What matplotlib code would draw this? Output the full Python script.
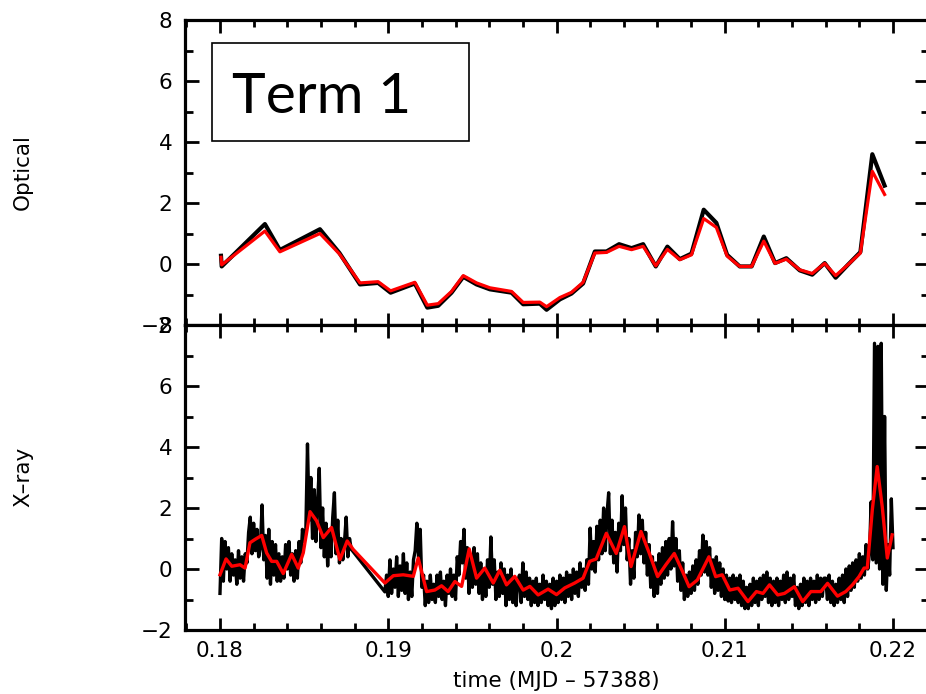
import numpy as np
import matplotlib
matplotlib.use("Agg")
import matplotlib.pyplot as plt
from matplotlib.ticker import MultipleLocator, FuncFormatter
from matplotlib.patches import Rectangle

# optical light curve (black = data, red = model)
opt_t = [0.18006, 0.1801, 0.18267, 0.18356, 0.18594, 0.1871, 0.18832, 0.1894, 0.19014, 0.19158,
         0.19232, 0.19297, 0.19376, 0.19446, 0.19525, 0.19604, 0.19733, 0.19802, 0.19901, 0.19941,
         0.2002, 0.20089, 0.20158, 0.20228, 0.20297, 0.20372, 0.20446, 0.20515, 0.2059, 0.20659,
         0.20733, 0.20802, 0.20875, 0.2095, 0.21014, 0.21089, 0.2116, 0.21232, 0.21299, 0.21366,
         0.21446, 0.2152, 0.21594, 0.21659, 0.21733, 0.21806, 0.21877, 0.2195]
opt_black = [0.27, -0.08, 1.31, 0.46, 1.14, 0.36, -0.67, -0.62, -0.94, -0.64,
             -1.43, -1.37, -0.94, -0.42, -0.67, -0.83, -0.94, -1.32, -1.30, -1.50,
             -1.16, -0.97, -0.64, 0.41, 0.41, 0.65, 0.52, 0.65, -0.08, 0.57,
             0.16, 0.34, 1.78, 1.35, 0.30, -0.08, -0.08, 0.90, 0.03, 0.19,
             -0.21, -0.35, 0.03, -0.45, -0.02, 0.39, 3.60, 2.57]
opt_red = [0.22, -0.03, 1.08, 0.40, 1.00, 0.33, -0.62, -0.58, -0.88, -0.60,
           -1.35, -1.30, -0.90, -0.38, -0.62, -0.78, -0.90, -1.26, -1.25, -1.40,
           -1.10, -0.93, -0.60, 0.36, 0.38, 0.58, 0.47, 0.58, -0.06, 0.48,
           0.14, 0.30, 1.49, 1.20, 0.26, -0.08, -0.08, 0.75, 0.02, 0.16,
           -0.19, -0.31, 0.02, -0.38, -0.02, 0.36, 3.04, 2.28]

# X-ray light curve, black data: first stretch
xa_t = [0.1800, 0.1801, 0.1802, 0.1803, 0.1804, 0.1805, 0.1806, 0.1807, 0.1808, 0.1809,
        0.1810, 0.1811, 0.1812, 0.1813, 0.1814, 0.1815, 0.1816, 0.1817, 0.1818, 0.1819,
        0.1820, 0.1821, 0.1822, 0.1823, 0.1824, 0.1825, 0.1826, 0.1827, 0.1828, 0.1829,
        0.1830, 0.1831, 0.1832, 0.1833, 0.1834, 0.1835, 0.1836, 0.1837, 0.1838, 0.1839,
        0.1840, 0.1841, 0.1842, 0.1843, 0.1844, 0.1845, 0.1846, 0.1847, 0.1848, 0.1849,
        0.1850, 0.1851, 0.1852, 0.1853, 0.1854, 0.1855, 0.1856, 0.1857, 0.1858, 0.1859,
        0.1860, 0.1861, 0.1862, 0.1863, 0.1864, 0.1865, 0.1866, 0.1867, 0.1868, 0.1869,
        0.1870, 0.1871, 0.1872, 0.1873, 0.1874, 0.1875, 0.1876, 0.1877, 0.1878]
xa_v = [-0.8, 1.0, -0.4, 0.9, 0.0, 0.7, -0.4, 0.5, -0.2, 0.3,
        -0.5, 0.6, -0.3, 0.4, -0.4, 0.5, 0.2, 1.2, 1.7, 0.5,
        1.5, 0.6, 1.3, 0.4, 0.7, 2.1, 0.3, 1.1, -0.3, 1.3,
        -0.5, 0.9, -0.2, 0.8, -0.4, 0.5, -0.4, 0.4, -0.3, 0.8,
        0.0, 0.9, -0.2, 0.5, -0.4, 0.6, -0.3, 0.9, 0.2, 1.3,
        0.9, 1.2, 4.1, 1.6, 3.0, 1.0, 2.6, 0.9, 2.2, 3.3,
        0.7, 2.0, 0.4, 1.5, 0.1, 1.3, 0.4, 1.7, 2.5, 0.5,
        1.6, 0.2, 1.0, 0.3, 0.9, 1.7, 0.4, 1.0, 0.65]

# X-ray light curve, black data: second stretch
xb_t = [0.1898, 0.1899, 0.1900, 0.1901, 0.1902, 0.1903, 0.1904, 0.1905, 0.1906, 0.1907,
        0.1908, 0.1909, 0.1910, 0.1911, 0.1912, 0.1913, 0.1914, 0.1915, 0.1916, 0.1917,
        0.1918, 0.1919, 0.1920, 0.1921, 0.1922, 0.1923, 0.1924, 0.1925, 0.1926, 0.1927,
        0.1928, 0.1929, 0.1930, 0.1931, 0.1932, 0.1933, 0.1934, 0.1935, 0.1936, 0.1937,
        0.1938, 0.1939, 0.1940, 0.1941, 0.1942, 0.1943, 0.1944, 0.1945, 0.1946, 0.1947,
        0.1948, 0.1949, 0.1950, 0.1951, 0.1952, 0.1953, 0.1954, 0.1955, 0.1956, 0.1957,
        0.1958, 0.1959, 0.1960, 0.1961, 0.1962, 0.1963, 0.1964, 0.1965, 0.1966, 0.1967,
        0.1968, 0.1969, 0.1970, 0.1971, 0.1972, 0.1973, 0.1974, 0.1975, 0.1976, 0.1977,
        0.1978, 0.1979, 0.1980, 0.1981, 0.1982, 0.1983, 0.1984, 0.1985, 0.1986, 0.1987,
        0.1988, 0.1989, 0.1990, 0.1991, 0.1992, 0.1993, 0.1994, 0.1995, 0.1996, 0.1997,
        0.1998, 0.1999, 0.2000, 0.2001, 0.2002, 0.2003, 0.2004, 0.2005, 0.2006, 0.2007,
        0.2008, 0.2009, 0.2010, 0.2011, 0.2012, 0.2013, 0.2014, 0.2015, 0.2016, 0.2017,
        0.2018, 0.2019, 0.2020, 0.2021, 0.2022, 0.2023, 0.2024, 0.2025, 0.2026, 0.2027,
        0.2028, 0.2029, 0.2030, 0.2031, 0.2032, 0.2033, 0.2034, 0.2035, 0.2036, 0.2037,
        0.2038, 0.2039, 0.2040, 0.2041, 0.2042, 0.2043, 0.2044, 0.2045, 0.2046, 0.2047,
        0.2048, 0.2049, 0.2050, 0.2051, 0.2052, 0.2053, 0.2054, 0.2055, 0.2056, 0.2057,
        0.2058, 0.2059, 0.2060, 0.2061, 0.2062, 0.2063, 0.2064, 0.2065, 0.2066, 0.2067,
        0.2068, 0.2069, 0.2070, 0.2071, 0.2072, 0.2073, 0.2074, 0.2075, 0.2076, 0.2077,
        0.2078, 0.2079, 0.2080, 0.2081, 0.2082, 0.2083, 0.2084, 0.2085, 0.2086, 0.2087,
        0.2088, 0.2089, 0.2090, 0.2091, 0.2092, 0.2093, 0.2094, 0.2095, 0.2096, 0.2097,
        0.2098, 0.2099, 0.2100, 0.2101, 0.2102, 0.2103, 0.2104, 0.2105, 0.2106, 0.2107,
        0.2108, 0.2109, 0.2110, 0.2111, 0.2112, 0.2113, 0.2114, 0.2115, 0.2116, 0.2117,
        0.2118, 0.2119, 0.2120, 0.2121, 0.2122, 0.2123, 0.2124, 0.2125, 0.2126, 0.2127,
        0.2128, 0.2129, 0.2130, 0.2131, 0.2132, 0.2133, 0.2134, 0.2135, 0.2136, 0.2137,
        0.2138, 0.2139, 0.2140, 0.2141, 0.2142, 0.2143, 0.2144, 0.2145, 0.2146, 0.2147,
        0.2148, 0.2149, 0.2150, 0.2151, 0.2152, 0.2153, 0.2154, 0.2155, 0.2156, 0.2157,
        0.2158, 0.2159, 0.2160, 0.2161, 0.2162, 0.2163, 0.2164, 0.2165, 0.2166, 0.2167,
        0.2168, 0.2169, 0.2170, 0.2171, 0.2172, 0.2173, 0.2174, 0.2175, 0.2176, 0.2177,
        0.2178, 0.2179, 0.2180, 0.2181, 0.2182, 0.2183, 0.2184, 0.2185, 0.2186, 0.2187,
        0.2188, 0.2189, 0.2190, 0.2191, 0.2192, 0.2193, 0.2194, 0.2195, 0.2196, 0.2197,
        0.2198, 0.2199, 0.2200]
xb_v = [-0.75, -0.2, -0.9, 0.3, -0.8, 0.0, -0.6, 0.4, -0.9, 0.1,
        -0.7, 0.5, -0.8, 0.2, -1.0, -0.1, -0.9, 0.3, 0.6, 1.5,
        0.4, 1.3, -0.6, -0.2, -1.2, -0.4, -1.1, -0.2, -1.0, -0.5,
        -1.1, -0.2, -0.9, -0.1, -1.0, -0.4, -1.2, -0.2, -0.8, 0.0,
        -0.9, -0.2, -1.0, 0.4, -0.2, 0.9, 0.2, 1.3, -0.3, 0.7,
        -0.8, 0.4, -0.6, 0.7, -0.5, 0.5, -0.8, 0.2, -1.0, 0.0,
        -0.9, 0.3, -0.6, 1.05, -0.5, 0.3, -1.0, -0.1, -0.9, 0.2,
        -0.8, 0.0, -1.2, -0.2, -1.0, 0.0, -1.1, -0.3, -1.2, -0.4,
        -0.2, -1.1, 0.2, -0.9, -0.1, -1.0, -0.3, -1.2, -0.4, -1.1,
        -0.3, -1.2, -0.5, -1.1, -0.2, -1.0, -0.4, -1.2, -0.5, -1.3,
        -0.3, -1.2, -0.4, -1.1, -0.2, -1.0, -0.3, -1.1, -0.1, -0.9,
        -0.2, -1.0, 0.0, -0.8, -0.1, -0.9, 0.2, -0.6, 0.0, -0.7,
        0.3, -0.5, 1.34, 0.0, 0.9, -0.1, 1.4, 0.3, 1.6, 0.5,
        2.0, 0.6, 1.8, 2.5, 0.5, 1.6, 0.2, 1.2, -0.1, 1.5,
        0.6, 2.4, 0.8, 2.0, 0.3, 1.0, -0.5, 0.6, -0.3, 1.2,
        0.4, 1.77, 0.5, 1.6, 0.2, 1.2, -0.2, 0.8, -0.6, 0.4,
        -0.9, 0.2, -0.8, 0.5, -0.5, 0.7, -0.3, 0.9, -0.2, 1.0,
        0.0, 1.55, 0.1, 1.0, -0.4, 0.6, -0.7, 0.2, -1.0, -0.2,
        -0.9, -0.1, -0.8, 0.1, -0.7, 0.3, -0.5, 0.6, -0.2, 1.11,
        -0.1, 0.9, -0.2, 0.7, -0.6, 0.3, -0.8, 0.4, -0.7, 0.2,
        -0.9, 0.0, -1.0, -0.2, -1.05, -0.3, -1.1, -0.2, -1.0, -0.3,
        -1.1, -0.2, -1.2, -0.4, -1.3, -0.6, -1.3, -0.5, -1.2, -0.3,
        -1.1, -0.4, -1.2, -0.3, -1.0, -0.2, -0.9, -0.1, -1.1, -0.3,
        -1.2, -0.4, -1.1, -0.3, -1.2, -0.4, -1.0, -0.2, -1.1, -0.1,
        -1.0, -0.3, -0.9, -0.2, -1.2, -0.6, -1.3, -0.5, -1.2, -0.3,
        -1.1, -0.4, -1.2, -0.3, -1.0, -0.4, -1.1, -0.2, -1.0, -0.3,
        -0.9, -0.3, -0.3, -1.0, -0.2, -1.1, -0.4, -1.2, -0.5, -1.1,
        -0.3, -1.0, -0.2, -1.1, 0.0, -0.9, 0.1, -0.7, 0.2, -0.6,
        0.3, -0.4, 0.5, -0.3, 0.4, -0.2, 0.8, 0.0, 0.5, 2.2,
        0.3, 7.4, 0.2, 7.3, 0.0, 7.4, -0.5, 5.0, -0.7, 0.8,
        -0.2, 2.3, 0.7]

# X-ray smoothed model (red)
xr_t = [0.18, 0.18036, 0.1807, 0.18119, 0.18149, 0.18178, 0.18208, 0.18248, 0.18277, 0.18307,
        0.18337, 0.18376, 0.18426, 0.18465, 0.18495, 0.18535, 0.18574, 0.18614, 0.18663, 0.18713,
        0.18756, 0.18792, 0.1898, 0.1903, 0.19089, 0.19149, 0.19178, 0.19228, 0.19277, 0.19317,
        0.19356, 0.19396, 0.19436, 0.19481, 0.19525, 0.19574, 0.19624, 0.19663, 0.19703, 0.19752,
        0.19802, 0.19842, 0.19891, 0.1995, 0.2, 0.20049, 0.20108, 0.20158, 0.20197, 0.20236,
        0.20296, 0.20355, 0.20404, 0.20443, 0.20502, 0.20552, 0.20601, 0.2065, 0.207, 0.20749,
        0.20788, 0.20837, 0.20906, 0.20946, 0.20985, 0.2103, 0.21079, 0.21138, 0.21188, 0.21227,
        0.21266, 0.21315, 0.21355, 0.21414, 0.21463, 0.21512, 0.21571, 0.21611, 0.2167, 0.21719,
        0.21759, 0.21798, 0.21828, 0.21847, 0.21877, 0.21906, 0.21936, 0.21966, 0.21995]
xr_v = [-0.19, 0.33, 0.09, 0.14, 0.03, 0.86, 0.97, 1.10, 0.53, 0.25,
        0.25, -0.15, 0.48, 0.03, 0.53, 1.88, 1.58, 1.03, 1.36, 0.31,
        0.92, 0.64, -0.46, -0.22, -0.19, -0.24, 0.36, -0.74, -0.69, -0.55,
        -0.74, -0.41, -0.57, 0.66, -0.30, 0.03, -0.46, -0.04, -0.52, -0.24,
        -0.69, -0.57, -0.85, -0.66, -0.84, -0.62, -0.46, -0.30, 0.25, 0.33,
        1.17, 0.51, 1.39, 0.08, 1.23, 0.51, -0.25, 0.14, 0.51, -0.08,
        -0.58, -0.36, 0.40, -0.25, -0.19, -0.69, -0.63, -1.07, -0.74, -0.80,
        -0.52, -0.85, -0.80, -0.58, -1.07, -0.74, -0.74, -0.47, -0.89, -0.74,
        -0.52, -0.25, 0.03, 0.03, 1.94, 3.36, 2.04, 0.36, 1.12]

W, H = 926, 694
fig = plt.figure(figsize=(W / 100, H / 100), dpi=100)

left, right = 185, 929
top, mid, bot = 20, 325, 630
ax1 = fig.add_axes([left / W, 1 - mid / H, (right - left) / W, (mid - top) / H])
ax2 = fig.add_axes([left / W, 1 - bot / H, (right - left) / W, (bot - mid) / H])

ax1.plot(opt_t, opt_black, color="black", lw=3.0)
ax1.plot(opt_t, opt_red, color="#ff0000", lw=2.3)

ax2.plot(xa_t + xb_t, xa_v + xb_v, color="black", lw=2.4)
ax2.plot(xr_t, xr_v, color="#ff0000", lw=2.4)

xmin = 0.18 - 35 / 16830
xmax = 0.22 + 36 / 16830
for ax in (ax1, ax2):
    ax.set_xlim(xmin, xmax)
    ax.set_ylim(-2, 8)
    ax.xaxis.set_major_locator(MultipleLocator(0.01))
    ax.xaxis.set_minor_locator(MultipleLocator(0.002))
    ax.yaxis.set_major_locator(MultipleLocator(2))
    ax.yaxis.set_minor_locator(MultipleLocator(1))
    ax.tick_params(which="both", direction="in", top=True, right=True, width=2.0)
    ax.tick_params(axis="y", which="major", length=10, pad=9, labelsize=15.5)
    ax.tick_params(axis="y", which="minor", length=5.5)
    ax.tick_params(axis="x", which="major", length=9, pad=8, labelsize=15.5)
    ax.tick_params(axis="x", which="minor", length=5)
    for s in ax.spines.values():
        s.set_linewidth(2.3)

ax1.tick_params(axis="x", labelbottom=False)
ax2.xaxis.set_major_formatter(FuncFormatter(lambda v, p: f"{round(v, 3):g}"))

fig.text(23 / W, 1 - 172 / H, "Optical", rotation=90, ha="center", va="center", fontsize=15.5)
fig.text(23 / W, 1 - 477 / H, "X\u2013ray", rotation=90, ha="center", va="center", fontsize=15.5)
fig.text(556 / W, 1 - 681 / H, "time (MJD \u2013 57388)", ha="center", va="center", fontsize=15.5)

# "Term 1" box
fig.patches.append(Rectangle((212 / W, 1 - 141 / H), 257 / W, 98 / H, transform=fig.transFigure,
                             facecolor="white", edgecolor="black", lw=1.2, zorder=5))
fig.text(232 / W, 1 - 113 / H, "Term 1", fontsize=41, family="Lato", va="baseline", ha="left", zorder=6)

fig.savefig("out.png", dpi=100)
